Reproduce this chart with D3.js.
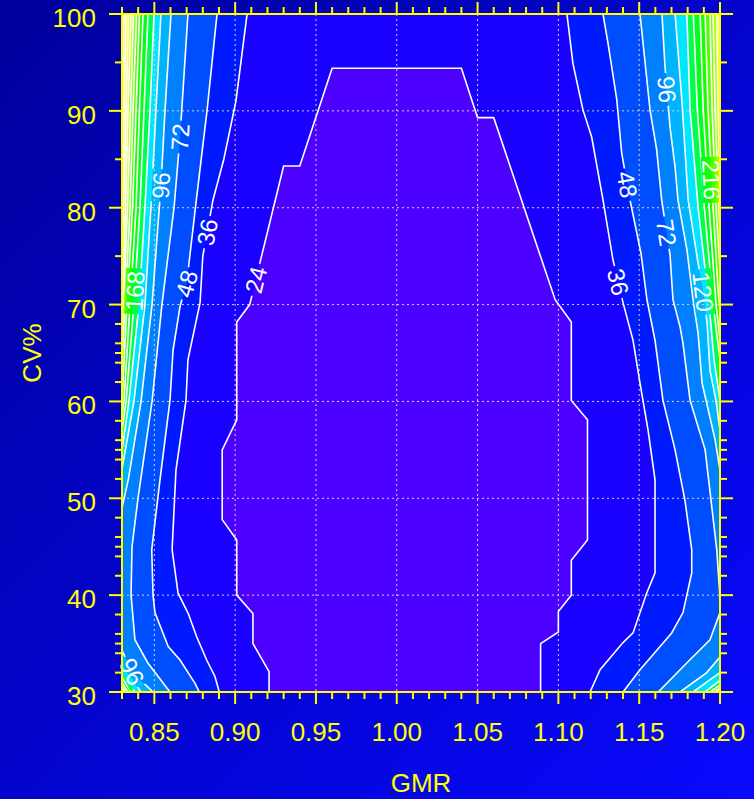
<!DOCTYPE html>
<html>
<head>
<meta charset="utf-8">
<script src="https://cdn.jsdelivr.net/npm/d3@7"></script>
<style>
  html, body { margin: 0; padding: 0; background: #0000c0; }
  svg { display: block; }
  text { font-family: "Liberation Sans", Arial, sans-serif; }
</style>
</head>
<body>
<div id="chart"></div>
<script>
// sample size contour levels (n)
var levels = [24, 36, 48, 72, 96, 120, 144, 168, 192, 216, 240, 264, 288, 312, 336, 360, 384, 408];

// left branch of every contour, top to bottom, as [GMR, CV%]
var leftLines = [
    [[1.00,94.4],[0.96,94.4],[0.94,84.3],[0.93,84.3],[0.909,70.0],[0.901,68.2],[0.901,58.1],[0.892,55.0],[0.892,47.8],[0.901,45.7],[0.901,40.0],[0.911,38.1],[0.911,35.0],[0.921,32.1],[0.921,30]],
    [[0.9074,100],[0.9005,91],[0.893,85],[0.8863,80.8],[0.880,75],[0.8783,70.2],[0.8708,64.3],[0.8696,60.1],[0.8634,52.9],[0.861,44.7],[0.8647,40.2],[0.871,38.1],[0.8762,35.7],[0.8824,33.3],[0.8875,31.6],[0.8902,30]],
    [[0.8888,100],[0.8826,90],[0.876,80.8],[0.870,72.2],[0.8659,69.8],[0.8616,65.3],[0.8597,60.1],[0.8535,51.9],[0.8484,44.7],[0.8492,40],[0.8504,38.2],[0.8586,34.7],[0.8659,33.3],[0.8752,30.9],[0.8778,30]],
    [[0.8708,100],[0.8659,87.3],[0.8622,80],[0.8547,70],[0.8486,60],[0.8399,50],[0.8362,45],[0.8356,40],[0.838,35.4],[0.846,33],[0.8597,30]],
    [[0.8603,100],[0.8566,90],[0.8541,82.3],[0.8486,70],[0.8418,60],[0.834,52],[0.83,49],[0.83,34.3],[0.8362,32.1],[0.8492,30]],
    [[0.8541,100],[0.851,90],[0.8479,80],[0.8442,70],[0.8374,60],[0.83,53],[0.83,32.8],[0.8418,30]],
    [[0.8498,100],[0.8473,90],[0.8442,80],[0.8405,70],[0.8343,60],[0.83,55],[0.83,32],[0.838,30]],
    [[0.8461,100],[0.8436,90],[0.8411,80],[0.8374,70],[0.8325,60],[0.83,57],[0.83,31.5],[0.8356,30]],
    [[0.843,100],[0.8408,90],[0.8387,80],[0.835,70],[0.8312,60],[0.83,58.5],[0.83,31],[0.8337,30]],
    [[0.8408,100],[0.8387,90],[0.8365,80],[0.8331,70],[0.8303,61],[0.83,60],[0.83,30.7],[0.8322,30]],
    [[0.839,100],[0.8368,90],[0.835,80],[0.8319,70],[0.83,64],[0.83,30.35],[0.8312,30]],
    [[0.8371,100],[0.8353,90],[0.8334,80],[0.8309,70],[0.83,67],[0.83,30]],
    [[0.8356,100],[0.8337,90],[0.8322,80],[0.8302,70],[0.83,69.5],[0.83,30]],
    [[0.834,100],[0.8325,90],[0.8309,80],[0.83,75],[0.83,30]],
    [[0.8325,100],[0.8312,90],[0.8302,80],[0.83,79],[0.83,30]],
    [[0.8312,100],[0.8302,90],[0.83,88],[0.83,30]],
    [[0.8306,100],[0.83,95],[0.83,30]],
    [[0.8302,100],[0.83,99],[0.83,30]]
];

// right branch of every contour, top to bottom
var rightLines = [
    [[1.00,94.4],[1.04,94.4],[1.05,89.3],[1.06,89.3],[1.098,70.5],[1.108,68.2],[1.108,60.1],[1.118,58.1],[1.118,45.7],[1.108,43.6],[1.108,40.0],[1.10,38.3],[1.10,36.2],[1.089,35.0],[1.089,30]],
    [[1.1053,100],[1.109,94.9],[1.1152,90.1],[1.1206,87.3],[1.1276,80.8],[1.1338,74.6],[1.14,70.2],[1.1462,66.3],[1.1505,61.9],[1.1555,57],[1.1598,51.9],[1.1598,42.3],[1.1546,40.2],[1.1462,36.1],[1.14,35.1],[1.1258,32.3],[1.1196,30]],
    [[1.1276,100],[1.1307,97],[1.1361,91.2],[1.1392,85.6],[1.1443,80.8],[1.1511,75.3],[1.1548,70.5],[1.1598,66.3],[1.1647,60.1],[1.1722,55],[1.1783,49.8],[1.1825,44.7],[1.1825,42.3],[1.1771,38.2],[1.1701,36.1],[1.1505,32.3],[1.14,30]],
    [[1.1505,100],[1.1567,90.1],[1.1608,86],[1.1639,80.8],[1.1691,75.1],[1.1709,70.5],[1.1753,67.7],[1.1771,66],[1.1815,60.1],[1.1908,55],[1.198,44.7],[1.1997,40.5],[1.2,38.2],[1.1938,35.4],[1.1794,33],[1.1618,30]],
    [[1.1641,100],[1.166,94.5],[1.1691,88.3],[1.1722,84.2],[1.174,80.8],[1.1796,75.6],[1.1833,70.5],[1.1864,67.1],[1.1889,61.9],[1.197,56],[1.2,52.9],[1.2,33.6],[1.1918,32],[1.1753,30]],
    [[1.1722,100],[1.1764,91.1],[1.1803,80.8],[1.1864,74.3],[1.1895,71.5],[1.192,68.1],[1.1938,63.2],[1.1975,60.1],[1.2,57],[1.2,32],[1.1833,30]],
    [[1.1795,100],[1.1815,90.1],[1.1864,80.1],[1.1932,70.1],[1.1963,64.3],[1.2,60.1],[1.2,31.2],[1.1907,30]],
    [[1.1835,100],[1.186,90.1],[1.1903,80.1],[1.1957,70.1],[1.2,64.3],[1.2,30.7],[1.1938,30]],
    [[1.1877,100],[1.1896,90.1],[1.1932,80.1],[1.1975,70.1],[1.2,66.3],[1.2,30.4],[1.1963,30]],
    [[1.1908,100],[1.1926,90.1],[1.1957,80.1],[1.1988,71.5],[1.2,69.4],[1.2,30.2],[1.1981,30]],
    [[1.1938,100],[1.1951,90.1],[1.1975,80.1],[1.2,73.6],[1.2,30]],
    [[1.1957,100],[1.197,90.1],[1.1988,81.8],[1.2,77.7],[1.2,30]],
    [[1.198,100],[1.1988,90.1],[1.2,82.9],[1.2,30]],
    [[1.1994,100],[1.2,92.2],[1.2,30]],
    [[1.2,100],[1.2,30]],
    [[1.2,100],[1.2,30]],
    [[1.2,100],[1.2,30]],
    [[1.2,100],[1.2,30]]
];

// contour labels: level and approximate spot
var labelLevels = [72, 96, 36, 48, 24, 168, 96, 48, 96, 216, 72, 36, 120];
var labelGmr = [0.8659, 0.8541, 0.8851, 0.869, 0.9092, 0.8374, 0.8362, 1.1395, 1.1667, 1.1969, 1.1661, 1.1339, 1.1889];
var labelCv = [87.3, 82.3, 77.4, 72.2, 72.7, 71.4, 32.1, 82.3, 92.2, 82.9, 77.4, 72.2, 71.3];

// axis ticks
var gmrTicks = d3.range(83, 121).map(function (v) { return v / 100; });
var gmrLabels = [0.85, 0.90, 0.95, 1.00, 1.05, 1.10, 1.15, 1.20];
var cvTicks = [30,32,34,35,36,38,40,42,44,45,46,48,50,52,54,55,56,58,60,62,64,65,66,68,70,75,80,85,90,95,100];
var cvLabels = [30, 40, 50, 60, 70, 80, 90, 100];

// topo.colors(21)
var palette = ['#4C00FF','#1A00FF','#001AFF','#004DFF','#0080FF','#00B3FF','#00E6FF',
    '#00FF4D','#00FF1A','#1AFF00','#4DFF00','#80FF00','#B3FF00','#E6FF00',
    '#FFFF00','#FFF01E','#FFE53C','#FFDE59','#FFDB77','#FFDB95','#FFE0B3'];

var width = 754,
    height = 799;

var x = d3.scaleLinear().domain([0.83, 1.2]).range([122, 720]);
var y = d3.scaleLinear().domain([30, 100]).range([692, 14]);

var svg = d3.select('#chart').append('svg').attr('width', width).attr('height', height);
var defs = svg.append('defs');

var grad = defs.append('linearGradient').attr('id', 'bg')
    .attr('x1', 0).attr('y1', 0).attr('x2', 1).attr('y2', 1);
grad.append('stop').attr('offset', '0%').attr('stop-color', '#00009c');
grad.append('stop').attr('offset', '100%').attr('stop-color', '#0808ff');
svg.append('rect').attr('width', width).attr('height', height).attr('fill', 'url(#bg)');

defs.append('clipPath').attr('id', 'plot').append('rect')
    .attr('x', x(0.83)).attr('y', y(100))
    .attr('width', x(1.2) - x(0.83)).attr('height', y(30) - y(100));

var line = d3.line().x(function (d) { return x(d[0]); }).y(function (d) { return y(d[1]); });

// filled bands, highest first
var fills = svg.append('g').attr('clip-path', 'url(#plot)');
fills.append('rect')
    .attr('x', x(0.83)).attr('y', y(100))
    .attr('width', x(1.2) - x(0.83)).attr('height', y(30) - y(100))
    .attr('fill', palette[levels.length]);
for (var i = levels.length - 1; i >= 0; i--) {
    var poly = leftLines[i].concat(rightLines[i].slice().reverse());
    fills.append('path').attr('d', line(poly) + 'Z').attr('fill', palette[i]);
}

// dotted grid
var grid = svg.append('g').attr('stroke', '#d3d3d3').attr('stroke-width', 1)
    .attr('stroke-dasharray', '2,3');
[0.85, 0.90, 0.95, 1.00, 1.05, 1.10, 1.15].forEach(function (v) {
    grid.append('line').attr('x1', x(v)).attr('x2', x(v)).attr('y1', y(100)).attr('y2', y(30));
});
[40, 50, 60, 70, 80, 90].forEach(function (v) {
    grid.append('line').attr('x1', x(0.83)).attr('x2', x(1.2)).attr('y1', y(v)).attr('y2', y(v));
});

// place labels on their contour
function placeLabel(k) {
    var idx = levels.indexOf(labelLevels[k]);
    var px = x(labelGmr[k]), py = y(labelCv[k]);
    var best = null;
    [leftLines[idx], rightLines[idx]].forEach(function (br) {
        for (var j = 0; j < br.length - 1; j++) {
            var ax = x(br[j][0]), ay = y(br[j][1]), bx = x(br[j + 1][0]), by = y(br[j + 1][1]);
            var dx = bx - ax, dy = by - ay, len2 = dx * dx + dy * dy;
            if (len2 === 0) continue;
            var t = Math.max(0, Math.min(1, ((px - ax) * dx + (py - ay) * dy) / len2));
            var qx = ax + t * dx, qy = ay + t * dy;
            var dist = (qx - px) * (qx - px) + (qy - py) * (qy - py);
            if (!best || dist < best.dist) best = { x: qx, y: qy, dx: dx, dy: dy, dist: dist };
        }
    });
    var a = Math.atan2(best.dy, best.dx) * 180 / Math.PI;
    if (a > 90) a -= 180;
    if (a <= -90) a += 180;
    return { x: best.x, y: best.y, angle: a, text: String(labelLevels[k]) };
}
var labels = labelLevels.map(function (d, k) { return placeLabel(k); });

// mask to break the lines where labels sit
var mask = defs.append('mask').attr('id', 'gaps').attr('maskUnits', 'userSpaceOnUse')
    .attr('x', 0).attr('y', 0).attr('width', width).attr('height', height);
mask.append('rect').attr('width', width).attr('height', height).attr('fill', 'white');

var lab = svg.append('g');
labels.forEach(function (d) {
    var t = lab.append('text')
        .attr('transform', 'translate(' + d.x + ',' + d.y + ') rotate(' + d.angle + ')')
        .attr('text-anchor', 'middle')
        .attr('dy', '0.36em')
        .attr('font-size', 24)
        .attr('fill', 'white')
        .text(d.text);
    var w = t.node().getComputedTextLength();
    mask.append('rect')
        .attr('x', -w / 2 - 3).attr('y', -10).attr('width', w + 6).attr('height', 20)
        .attr('transform', 'translate(' + d.x + ',' + d.y + ') rotate(' + d.angle + ')')
        .attr('fill', 'black');
});

// contour lines
var lines = svg.insert('g', function () { return lab.node(); })
    .attr('clip-path', 'url(#plot)');
var linesInner = lines.append('g').attr('mask', 'url(#gaps)')
    .attr('fill', 'none').attr('stroke', 'white').attr('stroke-width', 1.6);
levels.forEach(function (lv, i) {
    linesInner.append('path').attr('d', line(leftLines[i]));
    linesInner.append('path').attr('d', line(rightLines[i]));
});

// axes
var axes = svg.append('g').attr('stroke', '#ffff00').attr('stroke-width', 2).attr('fill', 'none');
axes.append('rect')
    .attr('x', x(0.83)).attr('y', y(100))
    .attr('width', x(1.2) - x(0.83)).attr('height', y(30) - y(100));

function isMajorX(v) { return gmrLabels.some(function (m) { return Math.abs(m - v) < 1e-6; }); }
gmrTicks.forEach(function (v) {
    var len = isMajorX(v) ? 12 : 7;
    axes.append('line').attr('x1', x(v)).attr('x2', x(v)).attr('y1', y(30)).attr('y2', y(30) + len);
    axes.append('line').attr('x1', x(v)).attr('x2', x(v)).attr('y1', y(100)).attr('y2', y(100) - len);
});
cvTicks.forEach(function (v) {
    var len = cvLabels.indexOf(v) >= 0 ? 13 : 7;
    axes.append('line').attr('x1', x(0.83)).attr('x2', x(0.83) - len).attr('y1', y(v)).attr('y2', y(v));
    axes.append('line').attr('x1', x(1.2)).attr('x2', x(1.2) + len).attr('y1', y(v)).attr('y2', y(v));
});

var txt = svg.append('g').attr('fill', '#ffff00').attr('font-size', 26);
gmrLabels.forEach(function (v) {
    txt.append('text').attr('x', x(v)).attr('y', 741).attr('text-anchor', 'middle')
        .text(d3.format('.2f')(v));
});
cvLabels.forEach(function (v) {
    txt.append('text').attr('x', 96).attr('y', y(v) + 13).attr('text-anchor', 'end').text(v);
});
txt.append('text').attr('x', (x(0.83) + x(1.2)) / 2).attr('y', 792)
    .attr('text-anchor', 'middle').text('GMR');
txt.append('text').attr('transform', 'translate(41,' + (y(30) + y(100)) / 2 + ') rotate(-90)')
    .attr('text-anchor', 'middle').text('CV%');
</script>
</body>
</html>
